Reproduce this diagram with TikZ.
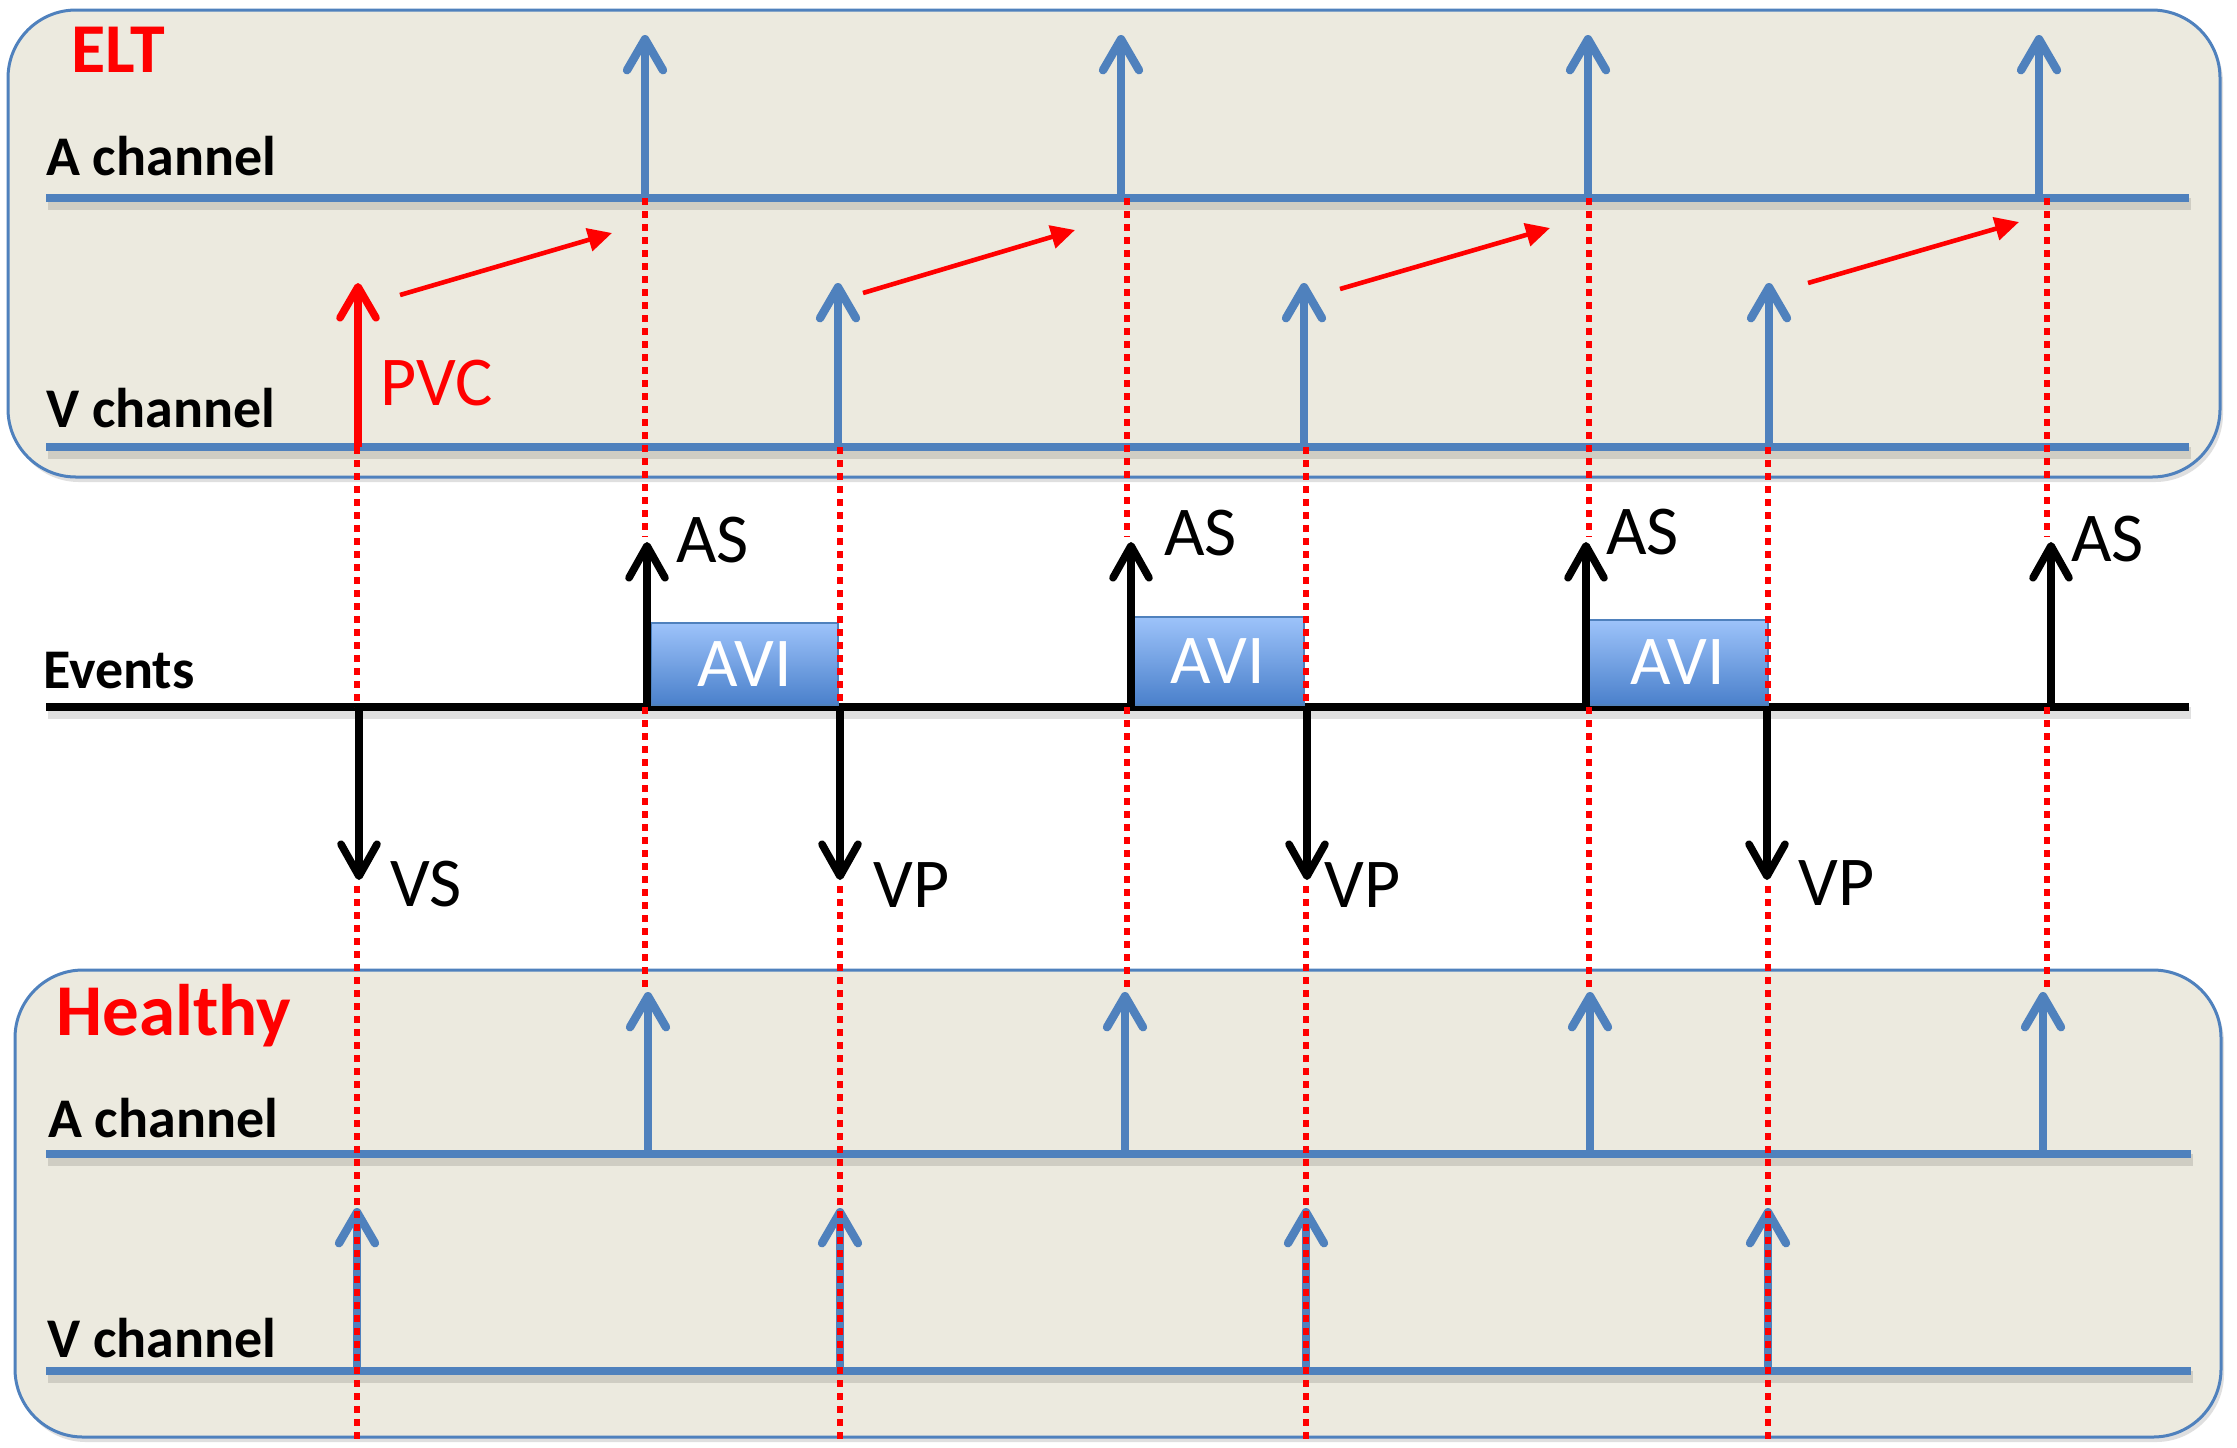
\documentclass[tikz,border=0pt]{standalone}
\usepackage{fontspec}
\setmainfont{Carlito}
\usetikzlibrary{arrows.meta,shadows}
\definecolor{pblue}{HTML}{4F81BD}
\definecolor{panel}{HTML}{ECEADF}
\definecolor{avitop}{HTML}{9DC3FA}
\definecolor{avibot}{HTML}{4A80CB}
\definecolor{pred}{HTML}{FF0000}
\tikzset{
  panelbox/.style={draw=pblue, line width=1.5pt, fill=panel, rounded corners=34pt,
    drop shadow={opacity=0.25, shadow xshift=1.5pt, shadow yshift=-2.5pt}},
  chanline/.style={draw=pblue, line width=4.2pt},
  evline/.style={draw=black, line width=3.7pt},
  linesh/.style={draw=black, opacity=0.12, line width=6pt},
  bluearrow/.style={draw=pblue, line width=4.2pt, -{Straight Barb[length=15.5pt,width=18pt,line width=4.2pt,round]}},
  blackarrow/.style={draw=black, line width=3.8pt, -{Straight Barb[length=16pt,width=18pt,line width=3.8pt,round]}},
  pvcarrow/.style={draw=pred, line width=3.8pt, -{Straight Barb[length=15.5pt,width=18pt,line width=3.8pt,round]}},
  delay/.style={draw=pred, line width=2.3pt, -{Triangle[length=12pt,width=11.5pt]}},
  guide/.style={draw=pred, line width=3.3pt, dash pattern=on 3.3pt off 3.2pt},
  chanlabel/.style={anchor=base west, inner sep=0pt, font=\fontsize{28}{30}\selectfont\bfseries},
  titlelabel/.style={anchor=base west, inner sep=0pt, text=pred, font=\fontsize{35}{38}\selectfont\bfseries},
  evlabel/.style={anchor=base west, inner sep=0pt, font=\fontsize{35}{38}\selectfont},
  avibox/.style={draw=pblue, line width=0.8pt, top color=avitop, bottom color=avibot,
    text=white, font=\fontsize{35}{38}\selectfont, inner sep=0pt},
}
\begin{document}
\begin{tikzpicture}[x=0.5pt,y=-0.5pt]
\fill[white] (0,0) rectangle (2237,1447);
\useasboundingbox (0,0) rectangle (2237,1447);

% panels
\path[panelbox] (8,10) rectangle (2220,477);
\path[panelbox] (15,970) rectangle (2221,1437);

% horizontal line end points
\coordinate (eaL) at (46,198);  \coordinate (eaR) at (2189,198);
\coordinate (evL) at (46,447);  \coordinate (evR) at (2189,447);
\coordinate (tL)  at (46,707);  \coordinate (tR)  at (2189,707);
\coordinate (haL) at (46,1154); \coordinate (haR) at (2191,1154);
\coordinate (hvL) at (46,1371); \coordinate (hvR) at (2191,1371);

% line shadows
\foreach \a/\b in {eaL/eaR,evL/evR,tL/tR,haL/haR,hvL/hvR}{
  \draw[linesh] ([xshift=1pt,yshift=-3pt]\a) -- ([xshift=1pt,yshift=-3pt]\b);
}
% channel lines
\draw[chanline] (eaL) -- (eaR);
\draw[chanline] (evL) -- (evR);
\draw[chanline] (haL) -- (haR);
\draw[chanline] (hvL) -- (hvR);

% ELT A channel arrows
\foreach \i/\x in {1/645,2/1121,3/1588,4/2039}{
  \coordinate (eaB\i) at (\x,198); \coordinate (eaT\i) at (\x,35);
  \draw[bluearrow] (eaB\i) -- (eaT\i);
}
% ELT V channel arrows
\coordinate (pvcB) at (358,447); \coordinate (pvcT) at (358,283);
\draw[pvcarrow] (pvcB) -- (pvcT);
\foreach \i/\x in {1/838,2/1304,3/1769}{
  \coordinate (evB\i) at (\x,447); \coordinate (evT\i) at (\x,283);
  \draw[bluearrow] (evB\i) -- (evT\i);
}
% delay arrows
\foreach \i/\xa/\ya/\xb/\yb in {1/400/295/612/233,2/863/293/1075/230,3/1340/289/1550/228,4/1808/283/2019/222}{
  \coordinate (dS\i) at (\xa,\ya); \coordinate (dE\i) at (\xb,\yb);
  \draw[delay] (dS\i) -- (dE\i);
}
% Healthy A arrows
\foreach \i/\x in {1/648,2/1125,3/1590,4/2043}{
  \coordinate (haB\i) at (\x,1154); \coordinate (haT\i) at (\x,992);
  \draw[bluearrow] (haB\i) -- (haT\i);
}
% Healthy V arrows
\foreach \i/\x in {0/357,1/840,2/1306,3/1768}{
  \coordinate (hvB\i) at (\x,1371); \coordinate (hvT\i) at (\x,1208);
  \draw[bluearrow] (hvB\i) -- (hvT\i);
}

% events line
\draw[evline] (tL) -- (tR);

% AVI boxes
\node[avibox, minimum width=93.5pt, minimum height=41pt] (avi1) at (744.5,664) {AVI};
\node[avibox, minimum width=86.5pt, minimum height=44pt] (avi2) at (1217.5,661) {AVI};
\node[avibox, minimum width=90.5pt, minimum height=42.5pt] (avi3) at (1677.5,662.5) {AVI};

% red dotted guides
\foreach \i/\x in {1/645,2/1127,3/1589,4/2047}{
  \coordinate (gaA\i) at (\x,198); \coordinate (gaB\i) at (\x,537);
  \coordinate (gaC\i) at (\x,707); \coordinate (gaD\i) at (\x,988);
  \draw[guide] (gaA\i) -- (gaB\i);
  \draw[guide] (gaC\i) -- (gaD\i);
}
\foreach \i/\x in {0/357,1/840,2/1306,3/1768}{
  \coordinate (gvA\i) at (\x,447); \coordinate (gvB\i) at (\x,707);
  \coordinate (gvC\i) at (\x,886); \coordinate (gvD\i) at (\x,1440);
  \draw[guide] (gvA\i) -- (gvB\i);
  \draw[guide] (gvC\i) -- (gvD\i);
}

% event arrows
\foreach \i/\x in {1/647,2/1131,3/1586,4/2051}{
  \coordinate (asB\i) at (\x,707); \coordinate (asT\i) at (\x,542);
  \draw[blackarrow] (asB\i) -- (asT\i);
}
\foreach \i/\x in {0/359,1/840,2/1307,3/1767}{
  \coordinate (vpB\i) at (\x,707); \coordinate (vpT\i) at (\x,880);
  \draw[blackarrow] (vpB\i) -- (vpT\i);
}

% labels
\node[titlelabel] (elt) at (71,72) {ELT};
\node[titlelabel, font=\fontsize{36.5}{40}\selectfont\bfseries] (healthy) at (56,1035) {Healthy};
\node[chanlabel] (eltA) at (46,175) {A channel};
\node[chanlabel] (eltV) at (46,427) {V channel};
\node[chanlabel] (events) at (43,688) {Events};
\node[chanlabel] (hA) at (48,1137) {A channel};
\node[chanlabel] (hV) at (47,1357) {V channel};
\node[evlabel, text=pred] (pvc) at (380,405) {PVC};
\node[evlabel] (as1) at (676,562) {AS};
\node[evlabel] (as2) at (1164,555) {AS};
\node[evlabel] (as3) at (1606,554) {AS};
\node[evlabel] (as4) at (2071,561) {AS};
\node[evlabel] (vs) at (390,906) {VS};
\node[evlabel] (vp1) at (873,907) {VP};
\node[evlabel] (vp2) at (1324,907) {VP};
\node[evlabel] (vp3) at (1798,905) {VP};
\end{tikzpicture}
\end{document}
